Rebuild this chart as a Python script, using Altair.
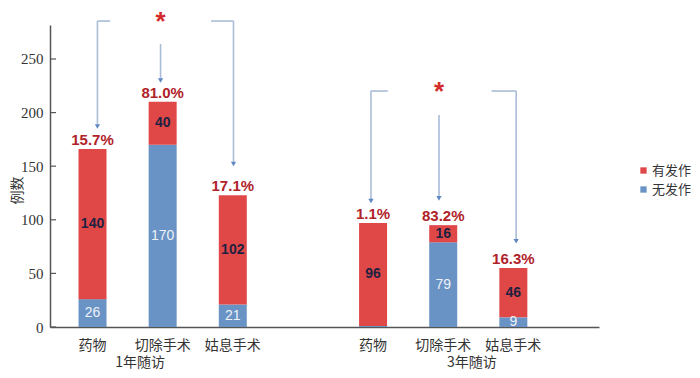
import altair as alt
import pandas as pd

# ---- data ----
groups = ["1年随访", "3年随访"]
group_pos = [0.68, 5.41]
treatments = ["药物", "切除手术", "姑息手术", "药物", "切除手术", "姑息手术"]
positions = [0, 1, 2, 4, 5, 6]
free_counts = [26, 170, 21, 1, 79, 9]        # 无发作
seizure_counts = [140, 40, 102, 96, 16, 46]  # 有发作
pct_labels = ["15.7%", "81.0%", "17.1%", "1.1%", "83.2%", "16.3%"]
series = ["有发作", "无发作"]
series_colors = ["#e04848", "#6a93c5"]
y_ticks = [0, 50, 100, 150, 200, 250]

# annotation brackets (x in category units, y in count units)
seg_x = [0.07, 0.07, 1.69, 2.01, 0.97, 3.97, 3.97, 5.69, 6.04, 4.94]
seg_y = [285.4, 285.4, 285.4, 285.4, 264.0, 220.1, 220.1, 220.1, 220.1, 197.8]
seg_x2 = [0.25, 0.07, 2.01, 2.01, 0.97, 4.21, 3.97, 6.04, 6.04, 4.94]
seg_y2 = [285.4, 189.0, 285.4, 154.0, 232.0, 220.1, 119.5, 220.1, 82.0, 122.0]
head_x = [0.07, 2.01, 0.97, 3.97, 6.04, 4.94]
head_y = [187.0, 152.0, 230.0, 117.5, 80.0, 120.0]
star_x = [0.97, 4.94]
star_y = [291.0, 225.5]

# ---- tables ----
rows = []
for p, t, f, s in zip(positions, treatments, free_counts, seizure_counts):
    rows.append(dict(pos=p, treat=t, series="无发作", y0=0, y1=f, mid=f / 2, val=f))
    rows.append(dict(pos=p, treat=t, series="有发作", y0=f, y1=f + s, mid=f + s / 2, val=s))
bars_df = pd.DataFrame(rows)
free_df = bars_df[(bars_df.series == "无发作") & (bars_df.val >= 5)]
seiz_df = bars_df[bars_df.series == "有发作"]
tot_df = pd.DataFrame(dict(pos=positions, total=[a + b for a, b in zip(free_counts, seizure_counts)],
                           pct=pct_labels, treat=treatments))
grp_df = pd.DataFrame(dict(pos=group_pos, g=groups))
seg_df = pd.DataFrame(dict(x=seg_x, y=seg_y, x2=seg_x2, y2=seg_y2))
head_df = pd.DataFrame(dict(x=head_x, y=head_y))
star_df = pd.DataFrame(dict(x=star_x, y=star_y))
tick_df = pd.DataFrame(dict(v=y_ticks))

W, H = 549, 302
xs = alt.Scale(domain=[-0.535, 7.15], nice=False, zero=False)
ys = alt.Scale(domain=[0, 281.7], nice=False)
CJK = "Noto Sans CJK SC"
AX = "#555555"

bars = alt.Chart(bars_df).mark_bar(size=28).encode(
    x=alt.X("pos:Q", scale=xs,
            axis=alt.Axis(labels=False, ticks=False, grid=False, title=None,
                          domainColor=AX, domainWidth=1.5)),
    y=alt.Y("y0:Q", scale=ys,
            axis=alt.Axis(values=y_ticks, ticks=False, grid=False, domainColor=AX, domainWidth=1.5,
                          labelFont="Liberation Serif", labelFontSize=15, labelColor="#333333",
                          labelPadding=7, title="例数", titleFont=CJK, titleFontSize=14,
                          titleFontWeight="normal", titleColor="#333333",
                          titleX=-33, titleY=165, titleAlign="center", titleBaseline="middle")),
    y2="y1:Q",
    color=alt.Color("series:N", scale=alt.Scale(domain=series, range=series_colors),
                    legend=alt.Legend(orient="none", legendX=587, legendY=139, title=None,
                                      symbolType="square", symbolSize=40, symbolStrokeWidth=0,
                                      labelFont=CJK, labelFontSize=13, labelColor="#333333",
                                      labelOffset=2, padding=0, rowPadding=5, labelLimit=200)),
)

inner_ticks = alt.Chart(tick_df).mark_rule(color=AX, strokeWidth=1.2).encode(
    y=alt.Y("v:Q", scale=ys), x=alt.value(0), x2=alt.value(6))

free_text = alt.Chart(free_df).mark_text(font="Liberation Sans", fontSize=14, baseline="middle",
                                         color="#eef2f8").encode(
    x=alt.X("pos:Q", scale=xs), y=alt.Y("mid:Q", scale=ys), text="val:Q")

seiz_text = alt.Chart(seiz_df).mark_text(font="Liberation Sans", fontSize=14, baseline="middle",
                                         fontWeight="bold", color="#1e2140").encode(
    x=alt.X("pos:Q", scale=xs), y=alt.Y("mid:Q", scale=ys), text="val:Q")

pct_text = alt.Chart(tot_df).mark_text(font="Liberation Sans", fontSize=15, fontWeight="bold",
                                       color="#b0222a", baseline="bottom", dy=-1).encode(
    x=alt.X("pos:Q", scale=xs), y=alt.Y("total:Q", scale=ys), text="pct:N")

cat_text = alt.Chart(tot_df).mark_text(font=CJK, fontSize=14, color="#333333", baseline="middle").encode(
    x=alt.X("pos:Q", scale=xs), y=alt.value(321), text="treat:N")

grp_text = alt.Chart(grp_df).mark_text(font=CJK, fontSize=14, color="#333333", baseline="middle").encode(
    x=alt.X("pos:Q", scale=xs), y=alt.value(338), text="g:N")

segs = alt.Chart(seg_df).mark_rule(color="#a9bcd8", strokeWidth=1.6).encode(
    x=alt.X("x:Q", scale=xs), y=alt.Y("y:Q", scale=ys), x2="x2:Q", y2="y2:Q")

heads = alt.Chart(head_df).mark_point(shape="triangle-down", filled=True, size=28,
                                      color="#5f88c2", opacity=1).encode(
    x=alt.X("x:Q", scale=xs), y=alt.Y("y:Q", scale=ys))

stars = alt.Chart(star_df).mark_text(text="*", font="Liberation Sans", fontSize=26, fontWeight="bold",
                                     color="#d42a2a", baseline="middle", dy=7).encode(
    x=alt.X("x:Q", scale=xs), y=alt.Y("y:Q", scale=ys))

chart = alt.layer(bars, inner_ticks, free_text, seiz_text, pct_text, cat_text, grp_text,
                  segs, heads, stars).properties(
    width=W, height=H,
    background="white",
    autosize=alt.AutoSizeParams(type="none"),
    padding={"left": 42, "top": 17, "right": 93, "bottom": 45},
).configure_view(stroke=None)

chart.save("out.html", embed_options={"renderer": "svg", "actions": False})
